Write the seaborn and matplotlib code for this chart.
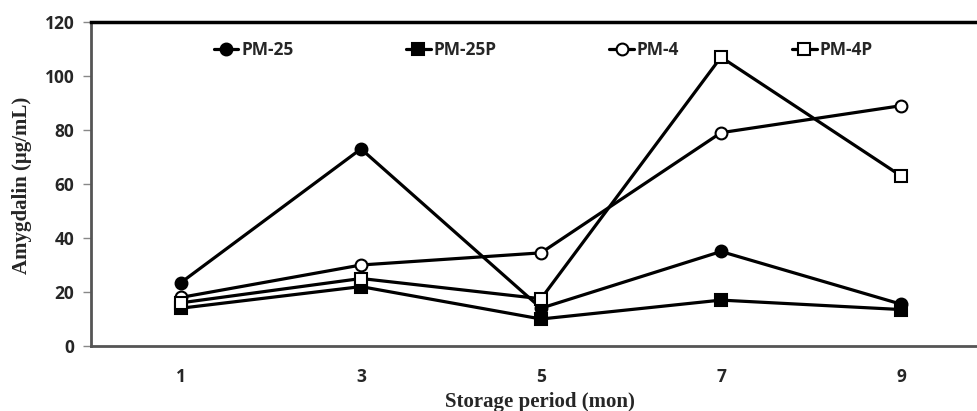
import pandas as pd
import matplotlib
matplotlib.use("Agg")
import matplotlib.pyplot as plt
import seaborn as sns

# Data
months = [1, 3, 5, 7, 9]
pm25 = [23.5, 73, 14, 35, 15.5]
pm25p = [14, 22, 10, 17, 13.5]
pm4 = [18, 30, 34.5, 79, 89]
pm4p = [16, 25, 17.5, 107, 63]

series_names = ['PM-25', 'PM-25P', 'PM-4', 'PM-4P']
series_markers = ['o', 's', 'o', 's']
series_fill = ['black', 'black', 'white', 'white']

df = pd.DataFrame({
    'month': months * 4,
    'value': pm25 + pm25p + pm4 + pm4p,
    'series': [s for s in series_names for _ in months],
})

sns.set_style('white')
tick_font = ['Open Sans', 'DejaVu Sans']
label_font = ['Liberation Serif', 'DejaVu Serif']
plt.rcParams['font.family'] = tick_font

fig = plt.figure(figsize=(9.78, 4.11), dpi=100)
ax = fig.add_axes([91 / 978, 1 - 346 / 411, 900 / 978, 324 / 411])

for name, mk, fc in zip(series_names, series_markers, series_fill):
    sub = df[df['series'] == name]
    sns.lineplot(data=sub, x='month', y='value', ax=ax, color='black',
                 linewidth=2.3, marker=mk, markersize=8.5,
                 markerfacecolor=fc, markeredgecolor='black', markeredgewidth=1.5,
                 label=name, clip_on=False)

ax.set_xlim(0, 10)
ax.set_ylim(0, 120)
ax.set_xticks(months)
ax.set_xticklabels([str(m) for m in months], fontsize=12.5, fontweight='bold')
ax.set_xticks([0, 2, 4, 6, 8, 10], minor=True)
ax.tick_params(axis='x', which='major', length=0, pad=16)
ax.tick_params(axis='x', which='minor', length=5, width=1, color='#888888', direction='out')
ax.set_yticks(range(0, 121, 20))
ax.set_yticklabels([str(v) for v in range(0, 121, 20)], fontsize=12.5, fontweight='bold')
ax.tick_params(axis='y', length=6, width=1, color='#888888', direction='out', pad=6, left=True)

for side in ['left', 'bottom']:
    ax.spines[side].set_color('#555555')
    ax.spines[side].set_linewidth(2)
ax.spines['top'].set_color('black')
ax.spines['top'].set_linewidth(2.5)
ax.spines['right'].set_visible(False)

ax.set_xlabel('Storage period (mon)', fontsize=15, fontweight='bold', family=label_font)
ax.set_ylabel('Amygdalin (μg/mL)', fontsize=15, fontweight='bold', family=label_font)
ax.xaxis.set_label_coords((540 - 91) / 900, -0.142)
ax.yaxis.set_label_coords(-0.066, 0.497)

leg = ax.legend(loc='upper left', bbox_to_anchor=((198 - 91) / 900, 0.99), ncol=4,
                frameon=False, handlelength=1.41, handletextpad=0.17,
                columnspacing=6.5, prop={'weight': 'bold', 'size': 12.5, 'family': tick_font})

fig.savefig('out.png', dpi=100)
